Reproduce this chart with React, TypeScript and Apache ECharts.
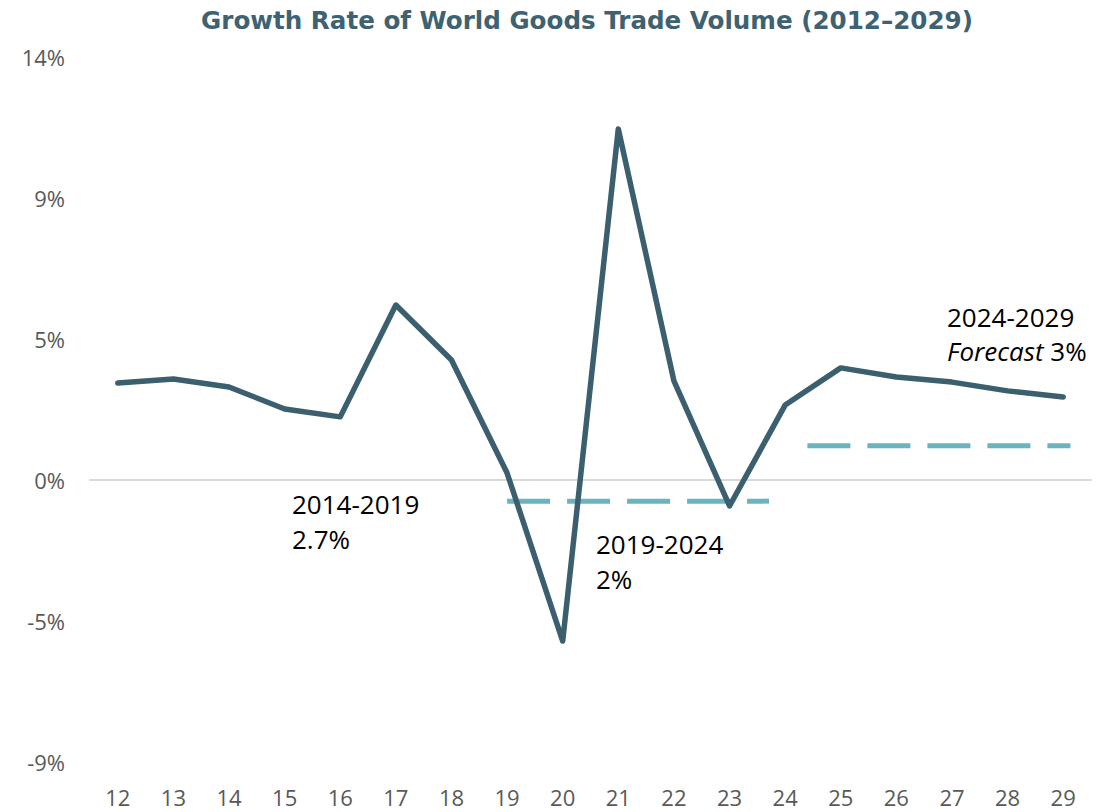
import React, { useEffect, useRef } from "react";
import * as echarts from "echarts";

const years: string[] = ["12", "13", "14", "15", "16", "17", "18", "19", "20", "21", "22", "23", "24", "25", "26", "27", "28", "29"];
const growth: number[] = [3.21, 3.34, 3.08, 2.35, 2.09, 5.79, 3.97, 0.23, -5.33, 11.62, 3.28, -0.86, 2.48, 3.71, 3.41, 3.24, 2.95, 2.75];
const avg2019to2024: [number, number][] = [[19, -0.7], [23.71, -0.7]];
const avg2024to2029: [number, number][] = [[24.4, 1.13], [29.13, 1.13]];
const yMin = -28 / 3;
const yMax = 14;
const yStep = 14 / 3;

const TITLE = "Growth Rate of World Goods Trade Volume (2012\u20132029)";
const FONT = "'Open Sans', 'Noto Sans', sans-serif";

export default function App() {
  const ref = useRef<HTMLDivElement>(null);
  useEffect(() => {
    if (!ref.current) return;
    const chart = echarts.init(ref.current, null, { renderer: "svg" });
    const annFont = `26px ${FONT}`;
    const ann = (text: string, x: number, y: number) => ({
      type: "text",
      x,
      y,
      z: 100,
      style: {
        text,
        font: annFont,
        fill: "#000000",
        textAlign: "left",
        textVerticalAlign: "middle",
      },
    });
    chart.setOption({
      animation: false,
      backgroundColor: "#ffffff",
      grid: { left: 90, right: 21, top: 57, bottom: 50 },
      xAxis: [
        {
          type: "category",
          data: years,
          boundaryGap: true,
          position: "bottom",
          axisLine: { show: false, onZero: false },
          axisTick: { show: false },
          axisLabel: { color: "#595959", fontSize: 22, fontFamily: FONT, margin: 24 },
          splitLine: { show: false },
        },
        {
          type: "value",
          min: 11.5,
          max: 29.5,
          position: "bottom",
          show: true,
          axisLine: { show: true, onZero: true, lineStyle: { color: "#d9d9d9", width: 2 } },
          axisTick: { show: false },
          axisLabel: { show: false },
          splitLine: { show: false },
        },
      ],
      yAxis: {
        type: "value",
        min: yMin,
        max: yMax,
        interval: yStep,
        axisLine: { show: false },
        axisTick: { show: false },
        splitLine: { show: false },
        axisLabel: {
          color: "#595959",
          fontSize: 22,
          fontFamily: FONT,
          margin: 25,
          formatter: (v: number) => `${Math.round(v)}%`,
        },
      },
      graphic: [
        {
          type: "text",
          x: 587,
          y: 20,
          style: {
            text: TITLE,
            font: `bold 24.6px 'DejaVu Sans', sans-serif`,
            fill: "#3e6271",
            textAlign: "center",
            textVerticalAlign: "middle",
          },
        },
        ann("2014-2019", 292, 504),
        ann("2.7%", 292, 539),
        ann("2019-2024", 596, 544),
        ann("2%", 596, 579),
        ann("2024-2029", 947, 317),
        {
          type: "text",
          x: 947,
          y: 351,
          z: 100,
          style: {
            text: "{i|Forecast} 3%",
            font: annFont,
            fill: "#000000",
            textAlign: "left",
            textVerticalAlign: "middle",
            rich: { i: { fontStyle: "italic", fontSize: 26, fontFamily: FONT, fill: "#000000" } },
          },
        },
      ],
      series: [
        {
          type: "line",
          name: "avg1",
          xAxisIndex: 1,
          data: avg2019to2024,
          symbol: "none",
          silent: true,
          lineStyle: { color: "#69b5bf", width: 5, type: [43, 17], cap: "butt" },
          z: 2,
        },
        {
          type: "line",
          name: "avg2",
          xAxisIndex: 1,
          data: avg2024to2029,
          symbol: "none",
          silent: true,
          lineStyle: { color: "#69b5bf", width: 5, type: [43, 17], cap: "butt" },
          z: 2,
        },
        {
          type: "line",
          name: "growth",
          xAxisIndex: 0,
          data: growth,
          symbol: "none",
          lineStyle: { color: "#3b5f6f", width: 5.5, cap: "round", join: "round" },
          z: 3,
        },
      ],
    });
    return () => chart.dispose();
  }, []);
  return (
    <div
      ref={ref}
      style={{ position: "absolute", left: 0, top: 0, width: 1112, height: 812 }}
    />
  );
}
